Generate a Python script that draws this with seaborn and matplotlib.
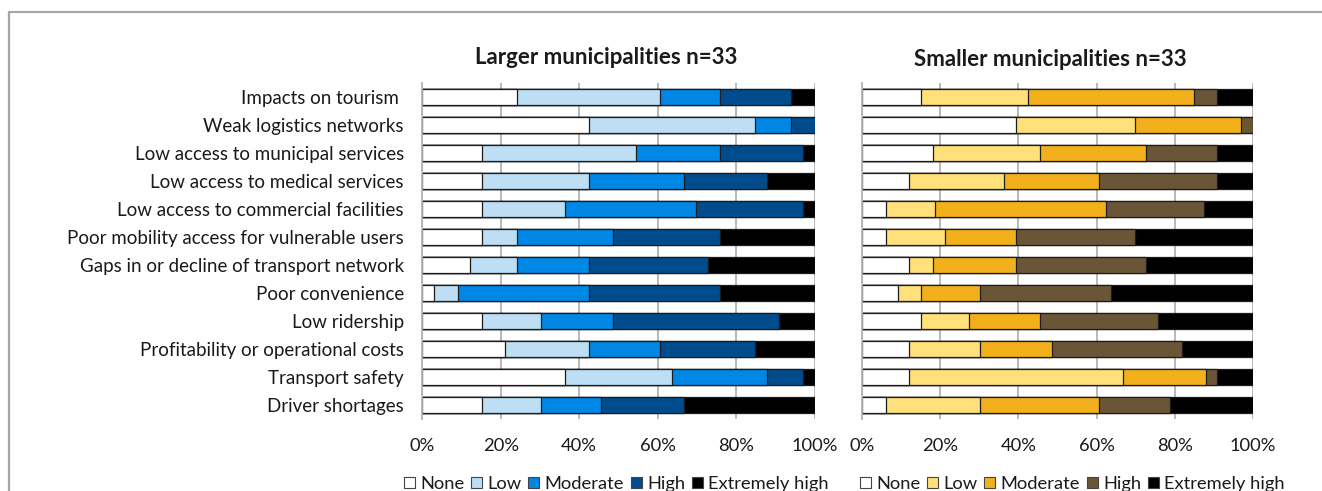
import matplotlib
matplotlib.use("Agg")
import matplotlib.pyplot as plt
from matplotlib.lines import Line2D
from matplotlib.patches import Patch
import numpy as np
import pandas as pd
import seaborn as sns

sns.set_style("white")
plt.rcParams["font.family"] = ["Lato", "DejaVu Sans"]

items = [
    "Impacts on tourism ",
    "Weak logistics networks",
    "Low access to municipal services",
    "Low access to medical services",
    "Low access to commercial facilities",
    "Poor mobility access for vulnerable users",
    "Gaps in or decline of transport network",
    "Poor convenience",
    "Low ridership",
    "Profitability or operational costs",
    "Transport safety",
    "Driver shortages",
]
levels = ["None", "Low", "Moderate", "High", "Extremely high"]

# Number of municipalities answering each level, per item
larger_none = [8, 14, 5, 5, 5, 5, 4, 1, 5, 7, 12, 5]
larger_low = [12, 14, 13, 9, 7, 3, 4, 2, 5, 7, 9, 5]
larger_moderate = [5, 3, 7, 8, 11, 8, 6, 11, 6, 6, 8, 5]
larger_high = [6, 2, 7, 7, 9, 9, 10, 11, 14, 8, 3, 7]
larger_extreme = [2, 0, 1, 4, 1, 8, 9, 8, 3, 5, 1, 11]

smaller_none = [5, 13, 6, 4, 2, 2, 4, 3, 5, 4, 4, 2]
smaller_low = [9, 10, 9, 8, 4, 5, 2, 2, 4, 6, 18, 8]
smaller_moderate = [14, 9, 9, 8, 14, 6, 7, 5, 6, 6, 7, 10]
smaller_high = [2, 1, 6, 10, 8, 10, 11, 11, 10, 11, 1, 6]
smaller_extreme = [3, 0, 3, 3, 4, 10, 9, 12, 8, 6, 3, 7]

larger_colors = ["#ffffff", "#bddef4", "#0086e5", "#004b8b", "#000000"]
smaller_colors = ["#ffffff", "#ffe07a", "#f2b01d", "#6b5537", "#000000"]

tick_values = [0, 20, 40, 60, 80, 100]
tick_labels = ["0%", "20%", "40%", "60%", "80%", "100%"]

titles = ["Larger municipalities n=33", "Smaller municipalities n=33"]

W, H = 1322, 491
fig = plt.figure(figsize=(W / 100, H / 100), dpi=100)
fig.patch.set_facecolor("white")


def fx(px):
    return px / W


def fy(py):
    return 1 - py / H


def draw_panel(ax, series, colors, show_labels):
    counts = np.array(series, dtype=float)
    pct = counts / counts.sum(axis=0) * 100
    cum = np.cumsum(pct, axis=0)
    # Stacked bars: draw cumulative totals from the longest down
    for k in range(len(levels) - 1, -1, -1):
        df = pd.DataFrame({"item": items, "value": cum[k]})
        sns.barplot(data=df, x="value", y="item", orient="h", color=colors[k],
                    saturation=1, edgecolor="#1c1c1c", linewidth=0.9,
                    width=0.59, errorbar=None, ax=ax)
    ax.set_xlim(0, 100)
    ax.set_ylim(len(items) - 0.5, -0.5)
    ax.set_xticks(tick_values)
    ax.set_xticklabels(tick_labels)
    ax.set_xlabel("")
    ax.set_ylabel("")
    ax.set_axisbelow(True)
    ax.grid(axis="x", color="#b3b3b3", linewidth=1.3)
    ax.grid(axis="y", visible=False)
    for s in ["top", "right", "bottom"]:
        ax.spines[s].set_visible(False)
    ax.spines["left"].set_color("#b3b3b3")
    ax.spines["left"].set_linewidth(1.3)
    ax.tick_params(axis="x", length=0, pad=14, labelsize=13.2, colors="#1a1a1a")
    ax.tick_params(axis="y", length=0, pad=13, labelsize=13.5, colors="#1a1a1a")
    if not show_labels:
        ax.set_yticklabels([])


ax_l = fig.add_axes([fx(422), fy(419), fx(393), 336 / H])
ax_r = fig.add_axes([fx(862), fy(419), fx(391), 336 / H])

draw_panel(ax_l, [larger_none, larger_low, larger_moderate, larger_high, larger_extreme],
           larger_colors, True)
draw_panel(ax_r, [smaller_none, smaller_low, smaller_moderate, smaller_high, smaller_extreme],
           smaller_colors, False)

fig.text(fx(606), fy(57), titles[0], ha="center", va="center",
         fontsize=16, fontweight="bold", color="#1a1a1a")
fig.text(fx(1050), fy(59), titles[1], ha="center", va="center",
         fontsize=16, fontweight="bold", color="#1a1a1a")

for colors, x0 in [(larger_colors, 404), (smaller_colors, 860)]:
    handles = [Patch(facecolor=c, edgecolor="#444444", linewidth=0.8) for c in colors]
    fig.legend(handles, levels, loc="center left", bbox_to_anchor=(fx(x0), fy(484)),
               ncol=5, frameon=False, fontsize=13.2, handlelength=0.6, handleheight=0.6,
               handletextpad=0.3, columnspacing=0.35, borderaxespad=0, borderpad=0,
               labelcolor="#1a1a1a")

# Chart-area frame along the top and left
fig.add_artist(Line2D([fx(9), 1.0], [fy(12), fy(12)], color="#a6a6a6", linewidth=1.6))
fig.add_artist(Line2D([fx(9), fx(9)], [fy(12), 0.0], color="#a6a6a6", linewidth=1.6))

fig.savefig("out.png", dpi=100, facecolor="white")
